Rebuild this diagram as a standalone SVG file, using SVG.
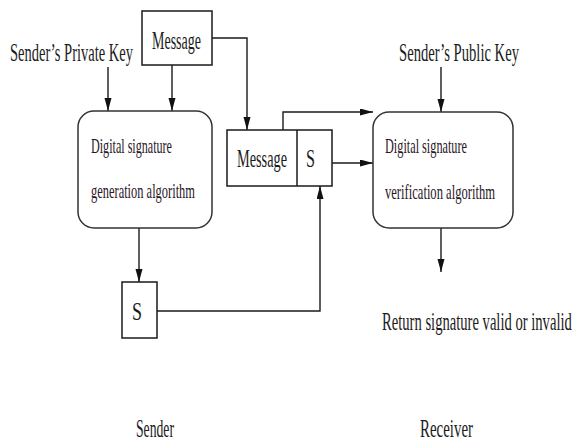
<svg xmlns="http://www.w3.org/2000/svg" width="574" height="441" viewBox="0 0 574 441">
<style>
.box{fill:#fff;stroke:#1a1a1a;stroke-width:1.5}
.rbox{fill:#fff;stroke:#333;stroke-width:1.5}
.t{font-family:"Liberation Serif",serif;fill:#1c1c1c}
.lbl{font-size:25px}
.bt{font-size:21px;fill:#2a1628}
.c{fill:none;stroke:#1a1a1a;stroke-width:1.4}
</style>
<defs>
<marker id="ah" markerUnits="userSpaceOnUse" markerWidth="14" markerHeight="8" refX="13" refY="3.5" orient="auto">
<path d="M0,0 L13,3.5 L0,7 z" fill="#111"/>
</marker>
</defs>
<rect width="574" height="441" fill="#fff"/>
<g id="connectors">
<path class="c" d="M108,67 V111" marker-end="url(#ah)"/>
<path class="c" d="M172,65 V111" marker-end="url(#ah)"/>
<path class="c" d="M212,38 H247 V130" marker-end="url(#ah)"/>
<path class="c" d="M139,228 V282" marker-end="url(#ah)"/>
<path class="c" d="M157,311 H320 V186" marker-end="url(#ah)"/>
<path class="c" d="M283,130 V112 H373" marker-end="url(#ah)"/>
<path class="c" d="M332,163 H373" marker-end="url(#ah)"/>
<path class="c" d="M441,67 V112" marker-end="url(#ah)"/>
<path class="c" d="M441,228 V272" marker-end="url(#ah)"/>
</g>
<g id="private-key"><text class="t lbl" transform="translate(10,61) scale(0.6,1)" textLength="205" lengthAdjust="spacingAndGlyphs">Sender’s Private Key</text></g>
<g id="message-top">
<rect class="box" x="142" y="11" width="70" height="54"/>
<text class="t lbl" transform="translate(152,49) scale(0.6,1)" textLength="81.7" lengthAdjust="spacingAndGlyphs">Message</text>
</g>
<g id="gen-alg">
<rect class="rbox" x="78" y="111" width="134" height="117" rx="16"/>
<text class="t bt" transform="translate(91,153) scale(0.6,1)" textLength="135" lengthAdjust="spacingAndGlyphs">Digital signature</text>
<text class="t bt" transform="translate(91,198) scale(0.6,1)" textLength="173.3" lengthAdjust="spacingAndGlyphs">generation algorithm</text>
</g>
<g id="message-s">
<rect class="box" x="227" y="130" width="105" height="56"/>
<line x1="297" y1="130" x2="297" y2="186" stroke="#1a1a1a" stroke-width="1.5"/>
<text class="t lbl" transform="translate(237,167) scale(0.6,1)" textLength="83.3" lengthAdjust="spacingAndGlyphs">Message</text>
<text class="t lbl" transform="translate(306,167) scale(0.6,1)" textLength="15" lengthAdjust="spacingAndGlyphs">S</text>
</g>
<g id="sig-s">
<rect class="box" x="122" y="282" width="35" height="56"/>
<text class="t lbl" transform="translate(132,320) scale(0.6,1)" textLength="16.7" lengthAdjust="spacingAndGlyphs">S</text>
</g>
<g id="public-key"><text class="t lbl" transform="translate(399,61) scale(0.6,1)" textLength="200" lengthAdjust="spacingAndGlyphs">Sender’s Public Key</text></g>
<g id="ver-alg">
<rect class="rbox" x="373" y="112" width="140" height="116" rx="16"/>
<text class="t bt" transform="translate(385,153) scale(0.6,1)" textLength="136.7" lengthAdjust="spacingAndGlyphs">Digital signature</text>
<text class="t bt" transform="translate(385,199) scale(0.6,1)" textLength="183.3" lengthAdjust="spacingAndGlyphs">verification algorithm</text>
</g>
<g id="result"><text class="t lbl" transform="translate(382,330) scale(0.57,1)" textLength="333" lengthAdjust="spacingAndGlyphs">Return signature valid or invalid</text></g>
<g id="sender-label"><text class="t lbl" transform="translate(136,437) scale(0.6,1)" textLength="63.3" lengthAdjust="spacingAndGlyphs">Sender</text></g>
<g id="receiver-label"><text class="t lbl" transform="translate(420,437) scale(0.6,1)" textLength="88.3" lengthAdjust="spacingAndGlyphs">Receiver</text></g>
</svg>
